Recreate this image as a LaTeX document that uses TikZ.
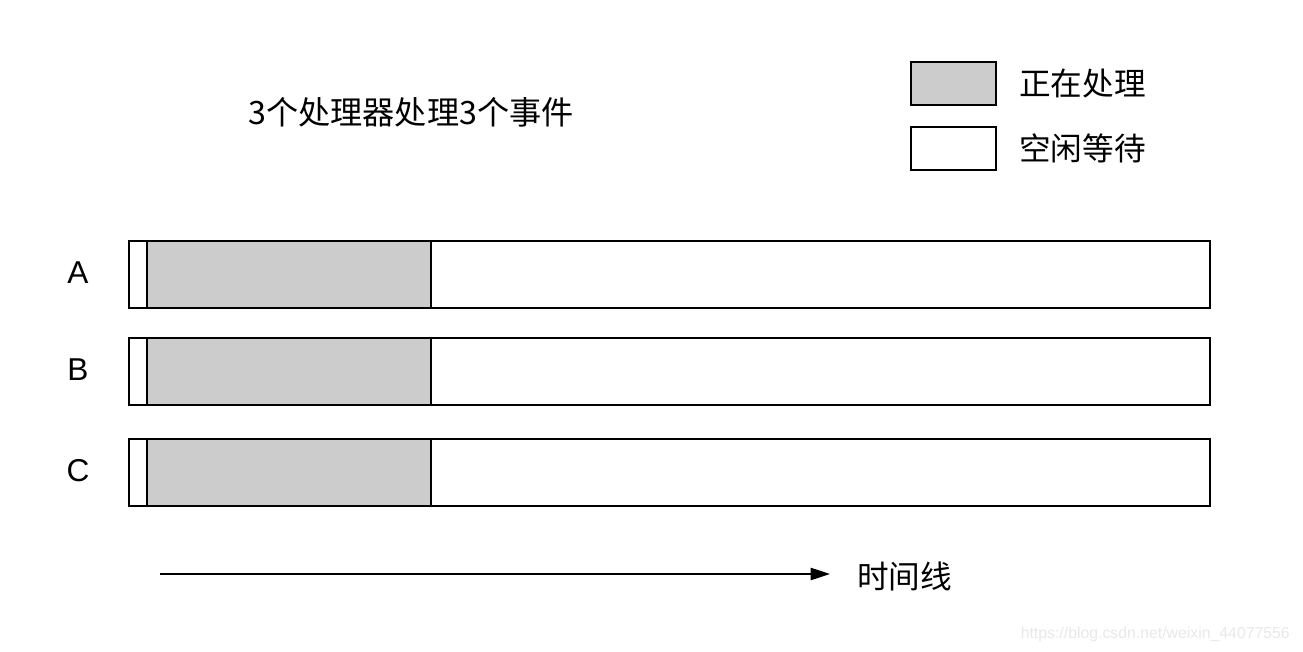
\documentclass[tikz,border=0pt]{standalone}
\usepackage{fontspec}
\setmainfont{Liberation Sans}
\newfontfamily\cjk{Noto Sans CJK SC}
\usepackage{tikz}
\usetikzlibrary{arrows.meta,positioning}

\begin{document}
\begin{tikzpicture}[
			x=0.02cm, y=-0.02cm,
			bar/.style={rectangle,draw,line width=1pt,inner sep=0pt,anchor=north west},
			busy/.style={bar,fill=black!20},
			lbl/.style={font=\fontsize{18}{20}\selectfont},
			]
			\useasboundingbox (0,0) rectangle (1303,652);
			% title
			\node [lbl,font=\fontsize{18.3}{20}\selectfont] (title) at (411,112) {\cjk 3个处理器处理3个事件};
			% legend
			\node [busy,minimum width=1.7cm,minimum height=0.86cm] (keybusy) at (910,61) {};
			\node [bar,minimum width=1.7cm,minimum height=0.86cm] (keyidle) at (910,126) {};
			\node [lbl,anchor=west] (keybusytext) at (1013,83) {\cjk 正在处理};
			\node [lbl,anchor=west] (keyidletext) at (1013,148) {\cjk 空闲等待};
			% processors
			\foreach \name/\y in {A/240,B/337,C/438}{
				\node [bar,minimum width=21.62cm,minimum height=1.34cm] (bar\name) at (128,\y) {};
				\node [busy,minimum width=5.68cm,minimum height=1.34cm] (work\name) at (146,\y) {};
				\node [lbl] (name\name) at (78,\y+33) {\name};
			}
			% time line
			\coordinate (tstart) at (160,574);
			\coordinate (tend) at (830,574);
			\draw [line width=0.8pt,-{Triangle[length=11pt,width=7pt]}] (tstart) -- (tend);
			\node [lbl,anchor=west] (timetext) at (851,576) {\cjk 时间线};
			% watermark
			\node [anchor=east,text=black!9,font=\fontsize{9}{10}\selectfont] (mark) at (1296,634) {https://blog.csdn.net/weixin\_44077556};
		\end{tikzpicture}
\end{document}
